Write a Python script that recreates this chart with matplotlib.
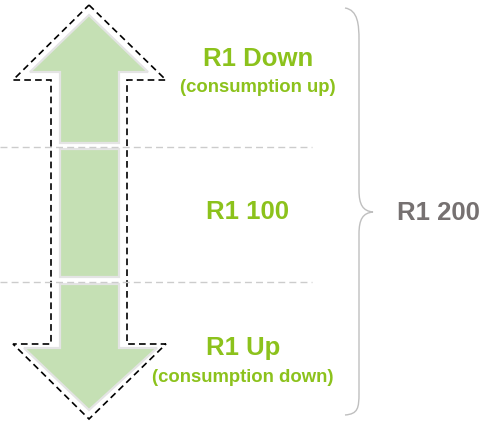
import matplotlib.pyplot as plt
from matplotlib.patches import Polygon, PathPatch
from matplotlib.path import Path

# Etiquetas del diagrama
labels_main = ["R1 Down", "R1 100", "R1 Up"]
labels_sub = ["(consumption up)", "", "(consumption down)"]
label_total = "R1 200"

# Limites de los segmentos (pixeles, eje y hacia abajo)
seg_top = [15, 143]
seg_mid = [149, 277]
seg_bot = [284, 410]
split_lines = [147, 282]

green = "#c5e0b4"
edge = "#e4e4e4"
text_green = "#8cc21c"
text_gray = "#767171"

plt.rcParams["font.family"] = ["Liberation Sans", "DejaVu Sans"]

fig = plt.figure(figsize=(4.82, 4.21), dpi=100)
ax = fig.add_axes([0, 0, 1, 1])
ax.set_xlim(0, 482)
ax.set_ylim(421, 0)
ax.axis("off")

# Lineas grises discontinuas
for y in split_lines:
    ax.plot([0, 312], [y, y], color="#cccccc", lw=1.0, dashes=(5, 3))

# Segmentos verdes
top = [(89, seg_top[0]), (148, 72), (119, 72), (119, seg_top[1]),
       (60, seg_top[1]), (60, 72), (30, 72)]
mid = [(60, seg_mid[0]), (119, seg_mid[0]), (119, seg_mid[1]), (60, seg_mid[1])]
bot = [(60, seg_bot[0]), (119, seg_bot[0]), (119, 348), (157, 348),
       (89, seg_bot[1]), (24, 348), (60, 348)]
for pts in [top, mid, bot]:
    ax.add_patch(Polygon(pts, closed=True, facecolor=green, edgecolor=edge, lw=1.6))

# Contorno discontinuo de la flecha doble
outline = [(89, 5), (166, 80), (127, 80), (127, 344), (166, 344), (89, 419),
           (13, 344), (51, 344), (51, 80), (13, 80)]
ax.add_patch(Polygon(outline, closed=True, fill=False, edgecolor="black",
                     lw=1.2, linestyle=(0, (4, 2.5))))

# Textos
ax.text(258, 59, labels_main[0], color=text_green, fontsize=18.5, fontweight="bold",
        ha="center", va="center")
ax.text(258, 87, labels_sub[0], color=text_green, fontsize=13.3, fontweight="bold",
        ha="center", va="center")
ax.text(247, 212, labels_main[1], color=text_green, fontsize=18.5, fontweight="bold",
        ha="center", va="center")
ax.text(243, 348, labels_main[2], color=text_green, fontsize=18.5, fontweight="bold",
        ha="center", va="center")
ax.text(243, 378, labels_sub[2], color=text_green, fontsize=13.3, fontweight="bold",
        ha="center", va="center")

# Llave
verts = [(345, 8), (358, 10), (359, 25), (359, 40),
         (359, 190),
         (359, 205), (363, 211), (373, 212),
         (363, 213), (359, 219), (359, 234),
         (359, 393),
         (359, 408), (358, 414), (345, 415)]
codes = [Path.MOVETO, Path.CURVE4, Path.CURVE4, Path.CURVE4,
         Path.LINETO,
         Path.CURVE4, Path.CURVE4, Path.CURVE4,
         Path.CURVE4, Path.CURVE4, Path.CURVE4,
         Path.LINETO,
         Path.CURVE4, Path.CURVE4, Path.CURVE4]
ax.add_patch(PathPatch(Path(verts, codes), fill=False, edgecolor="#bfbfbf", lw=1.0))

ax.text(438, 213, label_total, color=text_gray, fontsize=18.5, fontweight="bold",
        ha="center", va="center")

plt.savefig("out.png", dpi=100)
